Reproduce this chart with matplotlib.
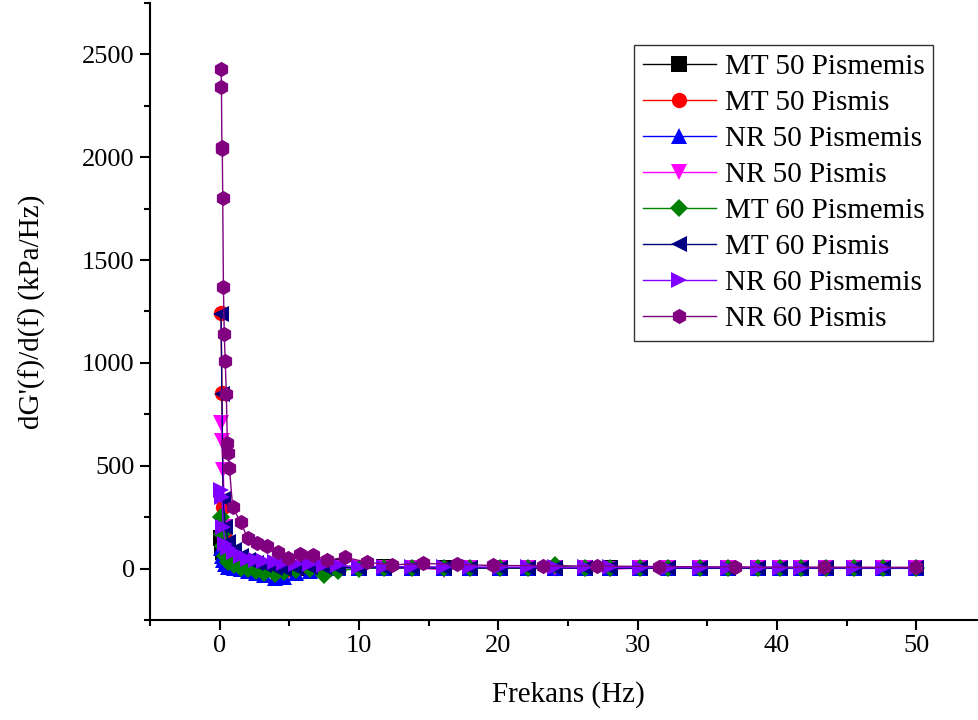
import matplotlib

matplotlib.use("Agg")
import matplotlib.pyplot as plt
from matplotlib.ticker import MultipleLocator

plt.rcParams["font.family"] = ["Liberation Serif", "DejaVu Serif"]

# frequency grid shared by the first seven series (Hz)
freq = [0.10, 0.16, 0.25, 0.40, 0.63, 1.0, 1.5, 2.0, 2.6, 3.2, 4.0, 4.6,
        5.5, 6.5, 7.5, 8.5, 10.0, 11.8, 13.8, 16.1, 18.0, 20.1, 22.1, 24.1,
        26.2, 28.0, 30.2, 32.2, 34.5, 36.5, 38.6, 40.2, 41.7, 43.5, 45.5,
        47.6, 50.0]

mt50_pismemis = [150, 110, 80, 60, 45, 35, 25, 20, 15, 10, 5, 0, 3, 5, 8,
                 6, 5, 6, 5, 4, 4, 3, 3, 3, 3, 2, 2, 2, 2, 2, 2, 2, 2, 2, 2,
                 2, 2]
mt50_pismis = [1245, 855, 300, 150, 90, 60, 40, 25, 15, 5, -5, -10, 0, 5,
               10, 8, 6, 5, 5, 4, 4, 3, 3, 3, 3, 3, 2, 2, 2, 2, 2, 2, 2, 2,
               2, 2, 2]
nr50_pismemis = [100, 60, 40, 20, 10, 5, 0, -10, -20, -30, -45, -40, -20,
                 -10, 0, 5, 3, 4, 3, 3, 2, 2, 2, 2, 2, 2, 1, 1, 1, 1, 1, 1,
                 1, 1, 1, 1, 1]
nr50_pismis = [710, 620, 480, 200, 100, 60, 40, 30, 20, 10, 5, 0, 5, 8, 6,
               5, 4, 4, 3, -5, 3, 3, 2, 2, 2, -3, 2, 2, 2, 2, 2, 2, 2, 2, 2,
               2, 2]
mt60_pismemis = [250, 170, 110, 60, 30, 15, 5, 0, -10, -20, -25, -15, -5,
                 0, -30, -10, 0, 5, 4, 3, 3, 2, 2, 15, 2, 2, 2, 2, 2, 2, 2,
                 2, 2, 2, 2, 2, 2]
mt60_pismis = [1240, 850, 340, 200, 130, 90, 60, 40, 25, 15, 5, 0, 5, 8,
               6, 5, 5, 4, 4, 3, 3, 3, 3, 3, 2, 2, 2, 2, 2, 2, 2, 2, 2, 2,
               2, 2, 2]
nr60_pismemis = [380, 350, 200, 120, 100, 80, 60, 45, 40, 35, 30, 25, 20,
                 20, 15, 15, 10, 10, 9, 8, 8, 7, 7, 6, 6, 6, 5, 5, 5, 5, 5,
                 5, 4, 4, 4, 4, 4]

# NR 60 Pismis was measured on its own grid
freq_nr60 = [0.10, 0.13, 0.16, 0.19, 0.22, 0.27, 0.33, 0.40, 0.48, 0.55,
             0.62, 0.70, 0.93, 1.5, 2.0, 2.7, 3.4, 4.2, 4.9, 5.8, 6.7, 7.7,
             9.0, 10.6, 12.4, 14.6, 17.0, 19.6, 23.2, 27.1, 31.5, 37.0, 43.4,
             50.0]
nr60_pismis = [2430, 2340, 2050, 2040, 1800, 1370, 1140, 1010, 850, 610,
               560, 490, 300, 225, 150, 125, 110, 80, 50, 72, 66, 40, 55, 30,
               18, 25, 20, 15, 14, 12, 10, 8, 7, 6]

series = [
    ("MT 50 Pismemis", freq, mt50_pismemis, "black", "s"),
    ("MT 50 Pismis", freq, mt50_pismis, "red", "o"),
    ("NR 50 Pismemis", freq, nr50_pismemis, "blue", "^"),
    ("NR 50 Pismis", freq, nr50_pismis, "magenta", "v"),
    ("MT 60 Pismemis", freq, mt60_pismemis, "green", "D"),
    ("MT 60 Pismis", freq, mt60_pismis, "navy", "<"),
    ("NR 60 Pismemis", freq, nr60_pismemis, "#7f00ff", ">"),
    ("NR 60 Pismis", freq_nr60, nr60_pismis, "purple", "h"),
]

fig = plt.figure(figsize=(9.79, 7.2), dpi=100)
ax = fig.add_axes([0.1532, 0.1389, 0.854, 0.857])

for label, x, y, color, marker in series:
    ms = 9 if marker == "D" else 11
    ax.plot(x, y, color=color, marker=marker, markersize=ms, linewidth=1,
            markeredgewidth=0, label=label)

ax.set_xlim(-5, 55)
ax.set_ylim(-250, 2750)
ax.xaxis.set_minor_locator(MultipleLocator(5))
ax.yaxis.set_minor_locator(MultipleLocator(250))
ax.set_xticks([0, 10, 20, 30, 40, 50])
ax.set_yticks([0, 500, 1000, 1500, 2000, 2500])

for side in ("top", "right"):
    ax.spines[side].set_visible(False)
for side in ("left", "bottom"):
    ax.spines[side].set_linewidth(1.5)

ax.tick_params(which="major", direction="out", length=7, width=1.5,
               labelsize=19, pad=4)
ax.tick_params(which="minor", direction="out", length=4, width=1.5)

ax.set_xlabel("Frekans (Hz)", fontsize=21, labelpad=17)
ax.set_ylabel("dG'(f)/d(f) (kPa/Hz)", fontsize=21, labelpad=26)

leg = ax.legend(loc="upper right", bbox_to_anchor=(0.9366, 0.932),
                fontsize=21, frameon=True, fancybox=False, handlelength=2.5,
                borderpad=0.3, labelspacing=0.33, handletextpad=0.3,
                borderaxespad=0)
leg.get_frame().set_edgecolor("black")
leg.get_frame().set_linewidth(1.0)

fig.savefig("out.png", dpi=100)
